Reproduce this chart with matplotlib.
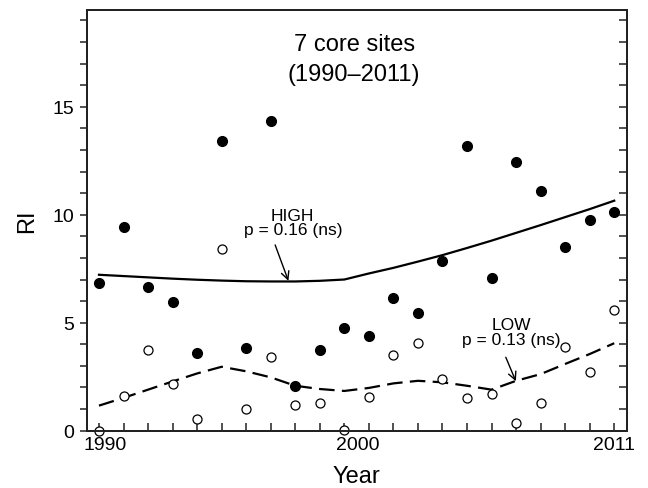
import matplotlib
matplotlib.use("Agg")
import matplotlib.pyplot as plt
import matplotlib.transforms as mtransforms

plt.rcParams['font.family'] = ['Liberation Sans', 'DejaVu Sans']

years = list(range(1990, 2012))
ri_high = [6.85, 9.42, 6.67, 5.94, 3.61, 13.40, 3.81, 14.35, 2.05, 3.74, 4.74,
           4.37, 6.14, 5.45, 7.87, 13.18, 7.05, 12.45, 11.11, 8.49, 9.75, 10.14]
ri_low = [0.0, 1.59, 3.74, 2.16, 0.56, 8.41, 0.99, 3.40, 1.19, 1.30, 0.03,
          1.56, 3.49, 4.06, 2.38, 1.51, 1.71, 0.37, 1.28, 3.87, 2.70, 5.57]
fit_high = [7.22, 7.16, 7.10, 7.04, 6.99, 6.95, 6.92, 6.91, 6.91, 6.94, 7.00,
            7.28, 7.54, 7.83, 8.13, 8.46, 8.80, 9.16, 9.52, 9.89, 10.26, 10.65]
fit_low = [1.16, 1.52, 1.90, 2.28, 2.65, 2.96, 2.75, 2.47, 2.08, 1.93, 1.84,
           1.98, 2.19, 2.31, 2.24, 2.08, 1.90, 2.31, 2.62, 3.09, 3.55, 4.05]
xtick_years = [1990, 2000, 2011]
yticks = [0, 5, 10, 15]

fig = plt.figure(figsize=(6.48, 4.89), dpi=100)
ax = fig.add_axes([0.1338, 0.1172, 0.8338, 0.8603])

ax.plot(years, fit_high, color='k', lw=1.6)
ax.plot(years, fit_low, color='k', lw=1.6, dashes=(7, 3.3))
ax.plot(years, ri_high, 'o', ms=7, color='k', clip_on=False, zorder=3)
ax.plot(years, ri_low, 'o', ms=6.5, mfc='white', mec='k', mew=0.9,
        clip_on=False, zorder=3)

ax.set_xlim(1989.5, 2011.52)
ax.set_ylim(0, 19.48)

ax.set_xticks(xtick_years)
ax.set_xticklabels([str(y) for y in xtick_years])
ax.set_xticks(years, minor=True)
ax.set_yticks(yticks)
ax.set_yticks(range(0, 20), minor=True)

ax.tick_params(axis='x', which='both', direction='in', length=6, width=1.1,
               top=False, labelsize=14, pad=4, color='#222222')
ax.tick_params(axis='y', which='both', direction='out', length=5, width=1.1,
               right=False, labelsize=14, pad=4, color='#222222')

# x labels sit a little right of their ticks in the original
for lab, dx in zip(ax.get_xticklabels(), [0.06, 0.13, 0.0]):
    lab.set_transform(lab.get_transform() +
                      mtransforms.ScaledTranslation(dx, 0, fig.dpi_scale_trans))

# right-hand ticks point inwards
ax2 = ax.twinx()
ax2.set_ylim(ax.get_ylim())
ax2.set_yticks(range(0, 20))
ax2.tick_params(axis='y', direction='in', length=6, width=1.1,
                labelright=False, color='#222222')

for a in (ax, ax2):
    for s in a.spines.values():
        s.set_linewidth(1.4)
        s.set_color('#222222')

ax.set_xlabel('Year', fontsize=17, labelpad=8.5)
ax.set_ylabel('RI', fontsize=17, labelpad=10)

ax.text(2000.4, 17.2, '7 core sites\n(1990\u20132011)', ha='center',
        va='center', fontsize=17, linespacing=1.45)
ax.text(1997.9, 9.63, 'HIGH\np = 0.16 (ns)', ha='center', va='center',
        fontsize=12.5, linespacing=0.95)
ax.annotate('', xy=(1997.72, 6.94), xytext=(1997.18, 8.6),
            arrowprops=dict(arrowstyle='->', lw=1, color='k',
                            shrinkA=0, shrinkB=0, mutation_scale=14))
ax.text(2006.8, 4.57, 'LOW\np = 0.13 (ns)', ha='center', va='center',
        fontsize=12.5, linespacing=0.95)
ax.annotate('', xy=(2006.99, 2.29), xytext=(2006.58, 3.4),
            arrowprops=dict(arrowstyle='->', lw=1, color='k',
                            shrinkA=0, shrinkB=0, mutation_scale=14))

fig.savefig('out.png', dpi=100)
